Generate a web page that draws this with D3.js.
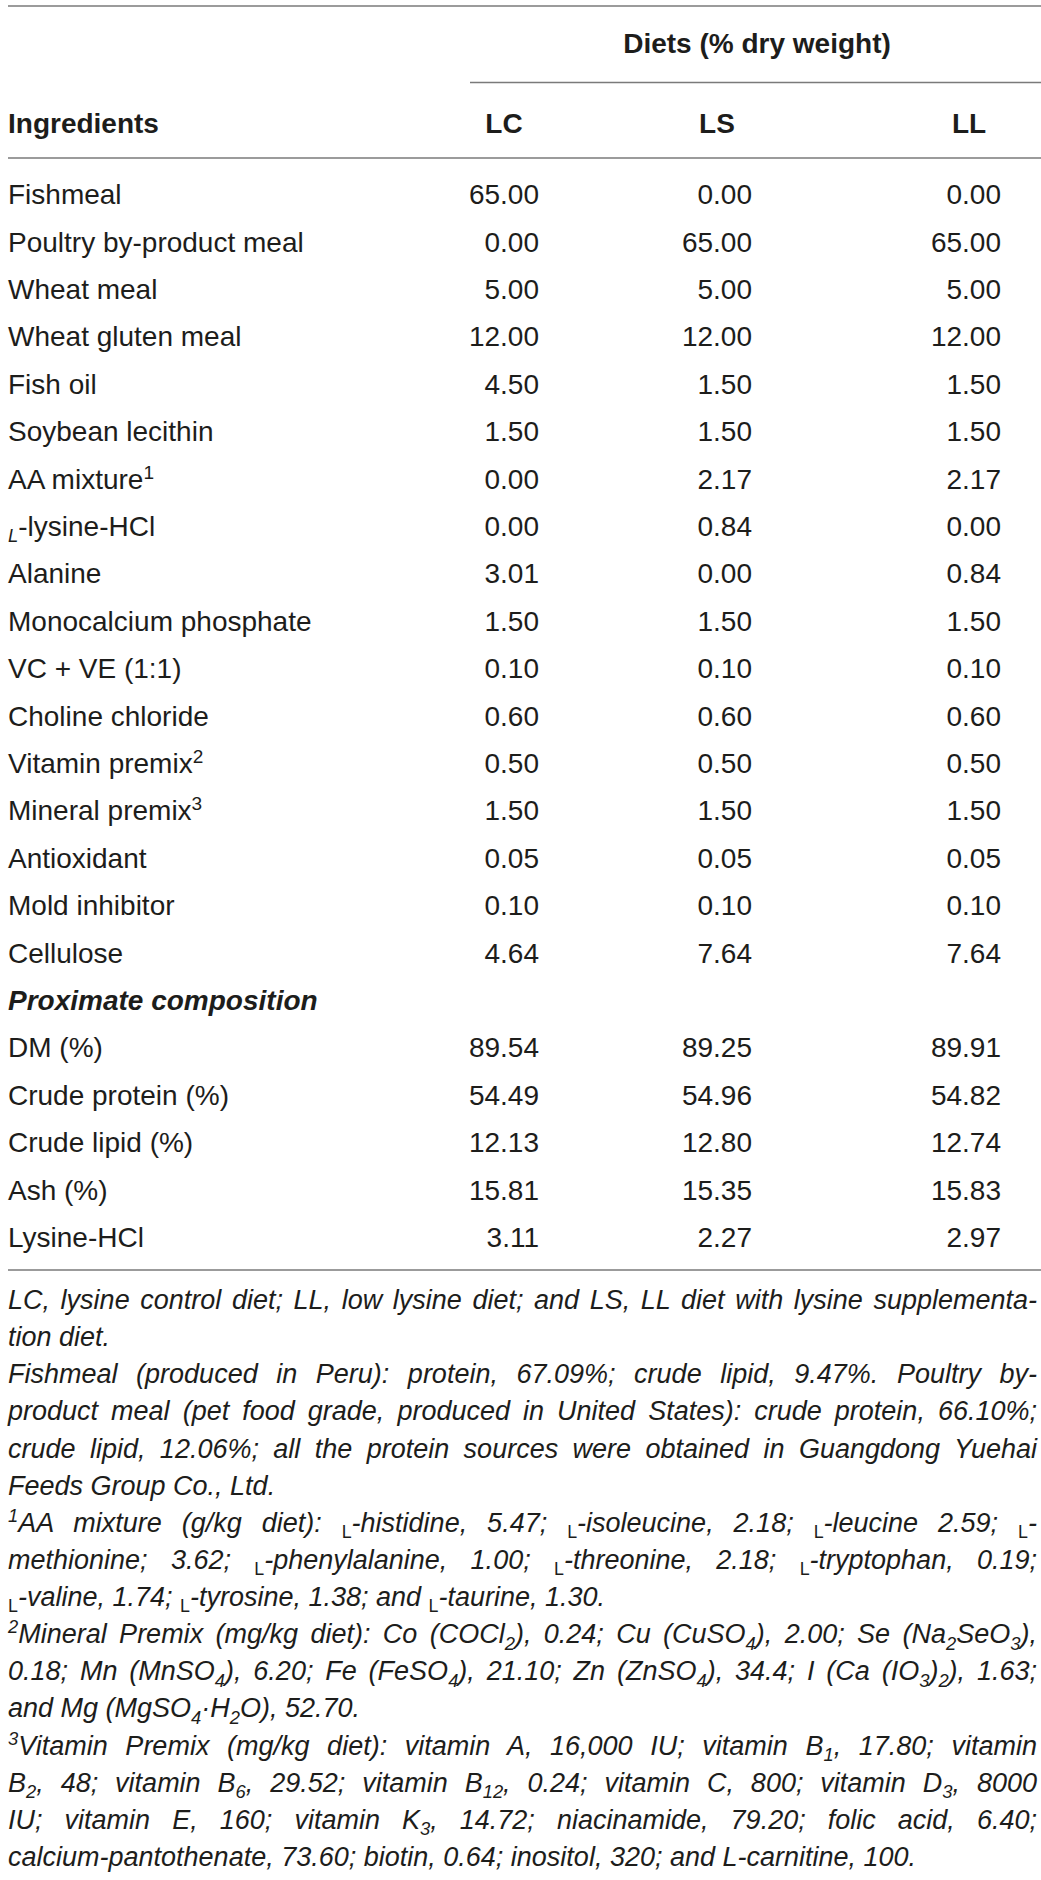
<!DOCTYPE html>
<html>
<head>
<meta charset="utf-8">
<script src="https://cdn.jsdelivr.net/npm/d3@7"></script>
<style>
html, body { margin: 0; padding: 0; background: #fff; }
svg { display: block; }
</style>
</head>
<body>
<svg id="table" width="1041" height="1880"></svg>
<script>
// table content
const dietGroupLabel = "Diets (% dry weight)";
const firstColumnLabel = "Ingredients";
const dietColumns = ["LC", "LS", "LL"];

const ingredients = ["Fishmeal", "Poultry by-product meal", "Wheat meal", "Wheat gluten meal",
    "Fish oil", "Soybean lecithin", "AA mixture", "{L}-lysine-HCl", "Alanine",
    "Monocalcium phosphate", "VC + VE (1:1)", "Choline chloride", "Vitamin premix",
    "Mineral premix", "Antioxidant", "Mold inhibitor", "Cellulose"];
const ingredientNotes = ["", "", "", "", "", "", "1", "", "", "", "", "", "2", "3", "", "", ""];
const lcIngredients = [65.00, 0.00, 5.00, 12.00, 4.50, 1.50, 0.00, 0.00, 3.01, 1.50, 0.10, 0.60, 0.50, 1.50, 0.05, 0.10, 4.64];
const lsIngredients = [0.00, 65.00, 5.00, 12.00, 1.50, 1.50, 2.17, 0.84, 0.00, 1.50, 0.10, 0.60, 0.50, 1.50, 0.05, 0.10, 7.64];
const llIngredients = [0.00, 65.00, 5.00, 12.00, 1.50, 1.50, 2.17, 0.00, 0.84, 1.50, 0.10, 0.60, 0.50, 1.50, 0.05, 0.10, 7.64];

const compositionLabel = "Proximate composition";
const compositionItems = ["DM (%)", "Crude protein (%)", "Crude lipid (%)", "Ash (%)", "Lysine-HCl"];
const lcComposition = [89.54, 54.49, 12.13, 15.81, 3.11];
const lsComposition = [89.25, 54.96, 12.80, 15.35, 2.27];
const llComposition = [89.91, 54.82, 12.74, 15.83, 2.97];

const footnoteLines = [
    "LC, lysine control diet; LL, low lysine diet; and LS, LL diet with lysine supplementa-",
    "tion diet.",
    "Fishmeal (produced in Peru): protein, 67.09%; crude lipid, 9.47%. Poultry by-",
    "product meal (pet food grade, produced in United States): crude protein, 66.10%;",
    "crude lipid, 12.06%; all the protein sources were obtained in Guangdong Yuehai",
    "Feeds Group Co., Ltd.",
    "{sup:1}AA mixture (g/kg diet): {L}-histidine, 5.47; {L}-isoleucine, 2.18; {L}-leucine 2.59; {L}-",
    "methionine; 3.62; {L}-phenylalanine, 1.00; {L}-threonine, 2.18; {L}-tryptophan, 0.19;",
    "{L}-valine, 1.74; {L}-tyrosine, 1.38; and {L}-taurine, 1.30.",
    "{sup:2}Mineral Premix (mg/kg diet): Co (COCl{sub:2}), 0.24; Cu (CuSO{sub:4}), 2.00; Se (Na{sub:2}SeO{sub:3}),",
    "0.18; Mn (MnSO{sub:4}), 6.20; Fe (FeSO{sub:4}), 21.10; Zn (ZnSO{sub:4}), 34.4; I (Ca (IO{sub:3}){sub:2}), 1.63;",
    "and Mg (MgSO{sub:4}·H{sub:2}O), 52.70.",
    "{sup:3}Vitamin Premix (mg/kg diet): vitamin A, 16,000 IU; vitamin B{sub:1}, 17.80; vitamin",
    "B{sub:2}, 48; vitamin B{sub:6}, 29.52; vitamin B{sub:12}, 0.24; vitamin C, 800; vitamin D{sub:3}, 8000",
    "IU; vitamin E, 160; vitamin K{sub:3}, 14.72; niacinamide, 79.20; folic acid, 6.40;",
    "calcium-pantothenate, 73.60; biotin, 0.64; inositol, 320; and L-carnitine, 100."
];
const justifiedLines = [true, false, true, true, true, false, true, true, false, true, true, false, true, true, true, false];

const rowLabels = ingredients.concat([compositionLabel], compositionItems);
const rowNotes = ingredientNotes.concat([""], compositionItems.map(() => ""));
const columnValues = {
    LC: lcIngredients.concat([null], lcComposition),
    LS: lsIngredients.concat([null], lsComposition),
    LL: llIngredients.concat([null], llComposition)
};

const ink = "#1d1d1b";
const rule = "#7a7a7a";
const font = "'Liberation Sans', Arial, Helvetica, sans-serif";

const svg = d3.select("#table").style("font-family", font);

const rowScale = d3.scaleBand()
    .domain(d3.range(rowLabels.length))
    .range([170.5, 170.5 + 47.4 * rowLabels.length]);
const rowY = (i) => rowScale(i) + rowScale.bandwidth() / 2;

const numberRight = d3.scaleOrdinal().domain(dietColumns).range([539, 752, 1001]);
const headCenter = d3.scaleOrdinal().domain(dietColumns).range([504, 717, 969]);

// rich text: {sub:x} {sup:x} {L}
function addRich(textSel, str, size, opts) {
    const parts = str.split(/(\{(?:sub|sup):[^}]*\}|\{L\})/).filter(s => s !== "");
    let cur = 0;
    parts.forEach((p) => {
        let target = 0, content = p, fs = null, style = null;
        let m = p.match(/^\{(sub|sup):(.*)\}$/);
        if (m) {
            content = m[2];
            fs = size * 0.68;
            target = m[1] == "sub" ? size * 0.24 : -size * 0.36;
        } else if (p == "{L}") {
            content = "L";
            fs = size * 0.66;
            target = size * 0.22;
            style = opts.lStyle;
        }
        const ts = textSel.append("tspan").attr("dy", target - cur).text(content);
        if (fs) ts.attr("font-size", fs);
        if (style) ts.attr("font-style", style);
        cur = target;
    });
}

// rules
const lines = [
    { x1: 8, x2: 1041, y: 6 },
    { x1: 470, x2: 1041, y: 82.5 },
    { x1: 8, x2: 1041, y: 158 },
    { x1: 8, x2: 1041, y: 1270 }
];
svg.append("g")
    .selectAll("line")
    .data(lines)
    .enter()
    .append("line")
    .attr("x1", d => d.x1)
    .attr("x2", d => d.x2)
    .attr("y1", d => d.y)
    .attr("y2", d => d.y)
    .attr("stroke", rule)
    .attr("stroke-width", 1.3);

// header
const head = svg.append("g")
    .attr("font-weight", "bold")
    .attr("font-size", 28)
    .attr("fill", ink);

head.append("text")
    .attr("x", 757)
    .attr("y", 53)
    .attr("text-anchor", "middle")
    .text(dietGroupLabel);

head.append("text")
    .attr("x", 8)
    .attr("y", 133)
    .text(firstColumnLabel);

head.selectAll(".col-head")
    .data(dietColumns)
    .enter()
    .append("text")
    .attr("class", "col-head")
    .attr("x", d => headCenter(d))
    .attr("y", 133)
    .attr("text-anchor", "middle")
    .text(d => d);

// body rows
const body = svg.append("g")
    .attr("font-size", 28)
    .attr("fill", ink);

body.selectAll(".row-label")
    .data(rowLabels)
    .enter()
    .append("text")
    .attr("class", "row-label")
    .attr("x", 8)
    .attr("y", (d, i) => rowY(i) + 10)
    .each(function (d, i) {
        const t = d3.select(this);
        if (d == compositionLabel) {
            t.attr("font-weight", "bold").attr("font-style", "italic").text(d);
            return;
        }
        addRich(t, d + (rowNotes[i] ? "{sup:" + rowNotes[i] + "}" : ""), 28, { lStyle: "italic" });
    });

dietColumns.forEach((col) => {
    body.selectAll(".val-" + col)
        .data(columnValues[col].map((v, i) => ({ v: v, i: i })).filter(d => d.v !== null))
        .enter()
        .append("text")
        .attr("class", "val-" + col)
        .attr("x", numberRight(col))
        .attr("y", d => rowY(d.i) + 10)
        .attr("text-anchor", "end")
        .text(d => d3.format(".2f")(d.v));
});

// footnotes
const noteSize = 27;
const noteScale = d3.scaleLinear().domain([0, footnoteLines.length - 1]).range([1300, 1857]);
const noteLeft = 8, noteRight = 1037;

const notes = svg.append("g")
    .attr("font-size", noteSize)
    .attr("font-style", "italic")
    .attr("fill", ink);

notes.selectAll("text")
    .data(footnoteLines)
    .enter()
    .append("text")
    .attr("x", noteLeft)
    .attr("y", (d, i) => noteScale(i) + 9)
    .each(function (d, i) {
        const t = d3.select(this);
        addRich(t, d, noteSize, { lStyle: "normal" });
        if (justifiedLines[i]) {
            const len = this.getComputedTextLength();
            const plain = d.replace(/\{(?:sub|sup):([^}]*)\}/g, "$1").replace(/\{L\}/g, "L");
            const spaces = (plain.match(/ /g) || []).length;
            if (spaces > 0) t.attr("word-spacing", (noteRight - noteLeft - len) / spaces);
        }
    });
</script>
</body>
</html>
